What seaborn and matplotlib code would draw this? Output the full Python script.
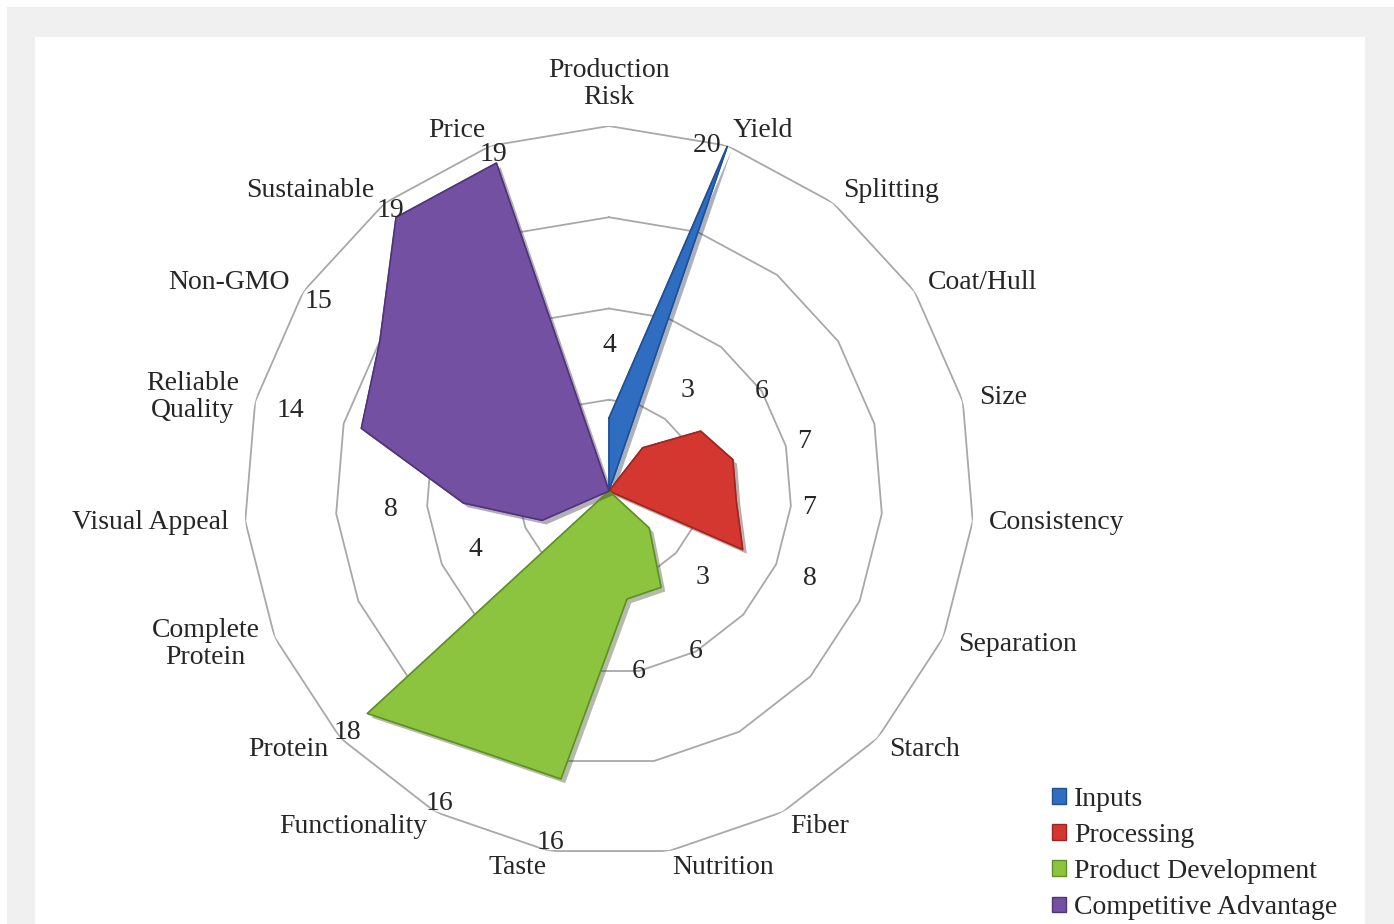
import numpy as np
import matplotlib
matplotlib.use("Agg")
import matplotlib.pyplot as plt
import matplotlib.patheffects as pe
from matplotlib.patches import Rectangle, Patch
import seaborn as sns

# ---------------- data ----------------
categories = ["Production\nRisk", "Yield", "Splitting", "Coat/Hull", "Size",
              "Consistency", "Separation", "Starch", "Fiber", "Nutrition",
              "Taste", "Functionality", "Protein", "Complete\nProtein",
              "Visual Appeal", "Reliable\nQuality", "Non-GMO", "Sustainable", "Price"]
inputs      = [4, 20, 0, 0, 0, 0, 0, 0, 0, 0, 0, 0, 0, 0, 0, 0, 0, 0, 0]
processing  = [0, 0, 3, 6, 7, 7, 8, 0, 0, 0, 0, 0, 0, 0, 0, 0, 0, 0, 0]
product_dev = [0, 0, 0, 0, 0, 0, 0, 3, 6, 6, 16, 16, 18, 0, 0, 0, 0, 0, 0]
competitive = [0, 0, 0, 0, 0, 0, 0, 0, 0, 0, 0, 0, 0, 4, 8, 14, 15, 19, 19]
series_names = ["Inputs", "Processing", "Product Development", "Competitive Advantage"]
grid_levels = [5, 10, 15, 20]

# ---------------- style ----------------
sns.set_theme(style="white")
plt.rcParams["font.family"] = ["Liberation Serif", "DejaVu Serif"]
colors = ["#2f6dc0", "#d4372f", "#8cc43f", "#7450a3"]
edges = ["#1f4f95", "#9e2520", "#5f8f25", "#4f3578"]
FS = 20
TXT = "#262626"

fig = plt.figure(figsize=(13.94, 9.24), dpi=100, facecolor="white")
W, H = 1394, 924
fig.patches.append(Rectangle((7 / W, 0), 1 - 7 / W, 1 - 7 / H, transform=fig.transFigure,
                             facecolor="#f0f0f0", edgecolor="none", zorder=-10))
fig.patches.append(Rectangle((35 / W, 0), (1365 - 35) / W, 1 - 37 / H, transform=fig.transFigure,
                             facecolor="white", edgecolor="none", zorder=-9))

cx, cy, R = 609, 491, 365
ax = fig.add_axes([(cx - R) / W, (H - cy - R) / H, 2 * R / W, 2 * R / H], projection="polar")
ax.set_theta_offset(np.pi / 2)
ax.set_theta_direction(-1)
ax.set_ylim(0, 20)
ax.set_axis_off()
ax.patch.set_alpha(0)

n = len(categories)
angles = np.arange(n) * 2 * np.pi / n
closed = np.append(angles, angles[0] + 2 * np.pi)

# grid rings (polygonal)
for lv in grid_levels:
    ax.plot(closed, [lv] * (n + 1), color="#a8a8a8", lw=1.3, zorder=1)

# series shapes
all_series = [inputs, processing, product_dev, competitive]
for vals, c, ec in zip(all_series, colors, edges):
    r = np.append(vals, vals[0])
    poly = ax.fill(closed, r, color=c, zorder=3)[0]
    poly.set_path_effects([pe.SimplePatchShadow(offset=(3, -3), alpha=0.35), pe.Normal()])
    sns.lineplot(x=closed, y=r, sort=False, estimator=None, ax=ax, color=ec, lw=1.2,
                 zorder=4, legend=False)

# data labels
for i in range(n):
    v = max(s[i] for s in all_series)
    if v >= 20:
        ax.text(angles[i], v, f"{v} ", fontsize=FS, ha="right", va="center", zorder=6,
                color=TXT)
    else:
        ax.text(angles[i], min(v + 4, 19.5), f"{v}", fontsize=FS, ha="center",
                va="center", zorder=6, color=TXT)

# category labels
for i, lab in enumerate(categories):
    th = angles[i]
    xdir = np.sin(th)
    if abs(xdir) < 0.05:
        ha = "center"
    else:
        ha = "left" if xdir > 0 else "right"
    va = "bottom" if np.cos(th) > 0.99 else "center"
    ax.text(th, 20.9, lab, fontsize=FS, ha=ha, va=va, multialignment="center",
            clip_on=False, linespacing=1.1, color=TXT)

handles = [Patch(facecolor=c, edgecolor=ec) for c, ec in zip(colors, edges)]
leg = fig.legend(handles, series_names, loc="upper left",
                 bbox_to_anchor=(1052 / W, 1 - 787 / H), frameon=False, fontsize=FS,
                 handlelength=0.5, handleheight=0.5, handletextpad=0.3, labelspacing=0.40,
                 borderaxespad=0, borderpad=0)
for t in leg.get_texts():
    t.set_color(TXT)

fig.savefig("out.png", dpi=100, facecolor="white")
